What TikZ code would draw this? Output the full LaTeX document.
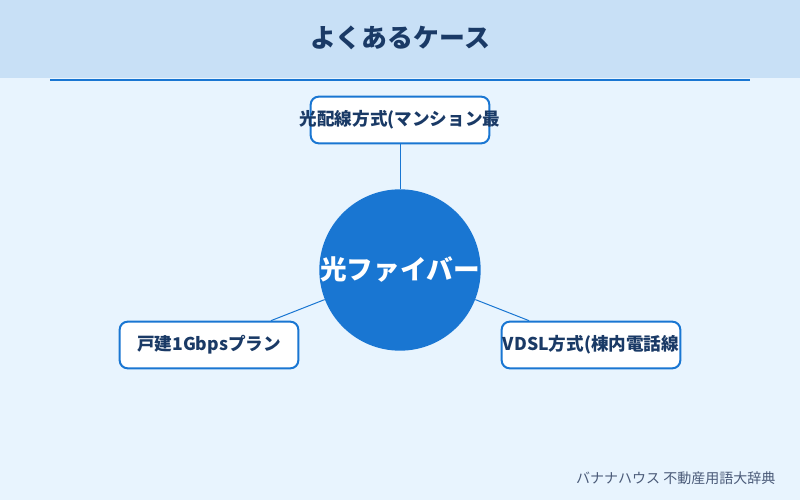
\documentclass[tikz,border=0pt]{standalone}
\usepackage{fontspec}
\setmainfont{Noto Sans CJK JP}
\usetikzlibrary{positioning,calc}
\definecolor{pagebg}{HTML}{E8F4FE}
\definecolor{headbg}{HTML}{C8E0F6}
\definecolor{mainblue}{HTML}{1976D2}
\definecolor{navytext}{HTML}{1A3A66}
\definecolor{foottext}{HTML}{4A5A78}

\begin{document}
\begin{tikzpicture}[x=0.75pt,y=-0.75pt,
  casebox/.style={draw=mainblue,line width=1.5pt,fill=white,rounded corners=6pt,
    minimum width=134pt,minimum height=35pt,inner sep=0pt},
  casetext/.style={font=\bfseries\fontsize{13.2}{15}\selectfont,text=navytext},
  link/.style={draw=mainblue,line width=0.75pt}]
  % background and header
  \fill[pagebg] (0,0) rectangle (800,500);
  \fill[headbg] (0,0) rectangle (800,78);
  \useasboundingbox (0,0) rectangle (800,500);
  \node[font=\bfseries\fontsize{19.4}{22}\selectfont,text=navytext] (title) at (400,38) {よくあるケース};
  \draw[mainblue,line width=1.5pt] (50,80) -- (750,80);
  % hub
  \node[circle,fill=mainblue,minimum size=120pt,inner sep=0pt,
    font=\bfseries\fontsize{20}{22}\selectfont,text=white] (hub) at (400,270) {光ファイバー};
  % cases
  \node[casebox,label={[casetext]center:光配線方式(マンション最}] (mansion) at (400,120) {};
  \node[casebox,label={[casetext]center:戸建1Gbpsプラン}] (house) at (209,345) {};
  \node[casebox,label={[casetext]center:VDSL方式(棟内電話線}] (vdsl) at (591,345) {};
  \foreach \n in {mansion,house,vdsl}
    \draw[link] (hub) -- (\n);
  % footer
  \node[anchor=east,font=\fontsize{10.5}{12}\selectfont,text=foottext] (credit) at (780,478) {バナナハウス 不動産用語大辞典};
\end{tikzpicture}
\end{document}
